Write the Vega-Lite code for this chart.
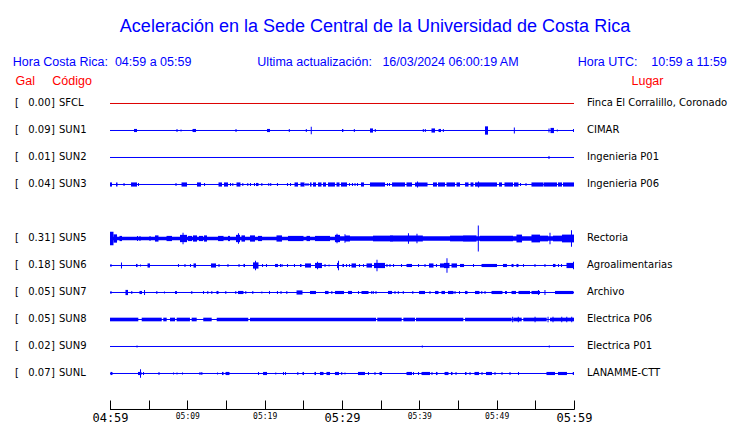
{
"$schema":"https://vega.github.io/schema/vega-lite/v6.json",
"width":464,"height":319,
"autosize":{"type":"none"},
"padding":{"left":110,"top":90,"right":166,"bottom":14},
"background":"white",
"config":{"view":{"stroke":null},"font":"DejaVu Sans",
 "axisX":{"title":null,"values":[0,5,10,15,20,25,30,35,40,45,50,55,60],"grid":false,"domain":true,"domainColor":"black","domainWidth":1,"tickColor":"black","tickWidth":1,"tickSize":-9,"labelFlush":false,"labelOverlap":false,"labelFont":"DejaVu Sans Mono","labelColor":"black","labelPadding":12,"labelBaseline":"top"}},
"title":{"text":"Aceleración en la Sede Central de la Universidad de Costa Rica",
"subtitle":"Hora Costa Rica:\u00a0\u00a004:59 a 05:59\u00a0\u00a0\u00a0\u00a0\u00a0\u00a0\u00a0\u00a0\u00a0\u00a0\u00a0\u00a0\u00a0\u00a0\u00a0\u00a0\u00a0\u00a0\u00a0Ultima actualización:\u00a0\u00a0\u00a016/03/2024 06:00:19 AM\u00a0\u00a0\u00a0\u00a0\u00a0\u00a0\u00a0\u00a0\u00a0\u00a0\u00a0\u00a0\u00a0\u00a0\u00a0\u00a0\u00a0Hora UTC:\u00a0\u00a0\u00a0\u00a010:59 a 11:59\u00a0\u00a0\u00a0\u200b",
"anchor":"middle","frame":"group","dx":33,"font":"Liberation Sans","fontSize":18,"fontWeight":"normal","color":"#0000ff",
"subtitleFont":"Liberation Sans","subtitleFontSize":12.5,"subtitleColor":"#0000ff","subtitlePadding":20,"offset":6},
"datasets":{
"stations":[
{"code":"SFCL","gal":0.00,"place":"Finca El Corralillo, Coronado"},
{"code":"SUN1","gal":0.09,"place":"CIMAR"},
{"code":"SUN2","gal":0.01,"place":"Ingenieria P01"},
{"code":"SUN3","gal":0.04,"place":"Ingenieria P06"},
{"code":"SUN5","gal":0.31,"place":"Rectoria"},
{"code":"SUN6","gal":0.18,"place":"Agroalimentarias"},
{"code":"SUN7","gal":0.05,"place":"Archivo"},
{"code":"SUN8","gal":0.05,"place":"Electrica P06"},
{"code":"SUN9","gal":0.02,"place":"Electrica P01"},
{"code":"SUNL","gal":0.07,"place":"LANAMME-CTT"}],
"bursts":[
{"code":"SUN1","a":3.1,"b":3.49,"amp":0.12},{"code":"SUN1","a":8.6,"b":8.73,"amp":0.12},{"code":"SUN1","a":9.12,"b":9.25,"amp":0.08},{"code":"SUN1","a":10.67,"b":11.12,"amp":0.12},{"code":"SUN1","a":16.23,"b":16.36,"amp":0.12},{"code":"SUN1","a":20.3,"b":20.69,"amp":0.12},{"code":"SUN1","a":23.12,"b":23.25,"amp":0.12},{"code":"SUN1","a":25.32,"b":25.45,"amp":0.12},{"code":"SUN1","a":25.96,"b":26.09,"amp":0.28},{"code":"SUN1","a":30.0,"b":30.17,"amp":0.12},{"code":"SUN1","a":31.53,"b":31.66,"amp":0.12},{"code":"SUN1","a":33.62,"b":34.01,"amp":0.16},{"code":"SUN1","a":34.24,"b":34.37,"amp":0.12},{"code":"SUN1","a":40.45,"b":40.58,"amp":0.12},{"code":"SUN1","a":40.71,"b":40.84,"amp":0.12},{"code":"SUN1","a":41.57,"b":42.03,"amp":0.16},{"code":"SUN1","a":42.48,"b":42.8,"amp":0.12},{"code":"SUN1","a":43.04,"b":43.17,"amp":0.12},{"code":"SUN1","a":48.49,"b":48.88,"amp":0.32},{"code":"SUN1","a":52.22,"b":52.35,"amp":0.24},{"code":"SUN1","a":56.7,"b":56.83,"amp":0.16},{"code":"SUN1","a":56.96,"b":57.41,"amp":0.2},{"code":"SUN1","a":57.78,"b":57.91,"amp":0.08},{"code":"SUN1","a":59.87,"b":60,"amp":0.12},
{"code":"SUN2","a":56.7,"b":56.83,"amp":0.12},
{"code":"SUN3","a":0,"b":0.26,"amp":0.16},{"code":"SUN3","a":0.78,"b":0.97,"amp":0.16},{"code":"SUN3","a":1.75,"b":1.88,"amp":0.12},{"code":"SUN3","a":2.72,"b":3.49,"amp":0.16},{"code":"SUN3","a":3.62,"b":3.75,"amp":0.12},{"code":"SUN3","a":8.47,"b":8.6,"amp":0.12},{"code":"SUN3","a":9.25,"b":9.96,"amp":0.16},{"code":"SUN3","a":11.25,"b":11.77,"amp":0.16},{"code":"SUN3","a":12.16,"b":12.29,"amp":0.12},{"code":"SUN3","a":14.03,"b":14.48,"amp":0.16},{"code":"SUN3","a":14.74,"b":15.26,"amp":0.16},{"code":"SUN3","a":15.52,"b":15.65,"amp":0.12},{"code":"SUN3","a":15.82,"b":15.94,"amp":0.12},{"code":"SUN3","a":16.36,"b":16.87,"amp":0.16},{"code":"SUN3","a":17.11,"b":17.24,"amp":0.12},{"code":"SUN3","a":17.75,"b":17.88,"amp":0.12},{"code":"SUN3","a":18.1,"b":18.23,"amp":0.12},{"code":"SUN3","a":18.62,"b":18.75,"amp":0.12},{"code":"SUN3","a":18.88,"b":19.2,"amp":0.12},{"code":"SUN3","a":19.57,"b":19.7,"amp":0.12},{"code":"SUN3","a":20.47,"b":20.59,"amp":0.12},{"code":"SUN3","a":20.72,"b":20.85,"amp":0.12},{"code":"SUN3","a":21.59,"b":21.72,"amp":0.12},{"code":"SUN3","a":22.89,"b":23.02,"amp":0.12},{"code":"SUN3","a":23.28,"b":23.41,"amp":0.12},{"code":"SUN3","a":23.86,"b":24.31,"amp":0.16},{"code":"SUN3","a":24.63,"b":25.15,"amp":0.16},{"code":"SUN3","a":25.28,"b":25.41,"amp":0.12},{"code":"SUN3","a":25.54,"b":25.67,"amp":0.12},{"code":"SUN3","a":25.86,"b":26.06,"amp":0.16},{"code":"SUN3","a":26.25,"b":26.64,"amp":0.16},{"code":"SUN3","a":26.9,"b":27.35,"amp":0.16},{"code":"SUN3","a":27.54,"b":27.93,"amp":0.16},{"code":"SUN3","a":28.19,"b":29.09,"amp":0.16},{"code":"SUN3","a":29.29,"b":29.68,"amp":0.16},{"code":"SUN3","a":29.87,"b":30.65,"amp":0.16},{"code":"SUN3","a":30.91,"b":31.03,"amp":0.12},{"code":"SUN3","a":31.29,"b":31.42,"amp":0.12},{"code":"SUN3","a":31.62,"b":31.75,"amp":0.12},{"code":"SUN3","a":31.94,"b":32.07,"amp":0.12},{"code":"SUN3","a":32.46,"b":32.84,"amp":0.16},{"code":"SUN3","a":33.62,"b":35.56,"amp":0.16},{"code":"SUN3","a":35.82,"b":35.95,"amp":0.12},{"code":"SUN3","a":36.08,"b":36.21,"amp":0.12},{"code":"SUN3","a":36.47,"b":38.15,"amp":0.16},{"code":"SUN3","a":38.34,"b":39.05,"amp":0.16},{"code":"SUN3","a":39.44,"b":41.06,"amp":0.16},{"code":"SUN3","a":39.7,"b":39.83,"amp":0.24},{"code":"SUN3","a":41.77,"b":42.28,"amp":0.16},{"code":"SUN3","a":42.41,"b":43.32,"amp":0.16},{"code":"SUN3","a":43.51,"b":44.61,"amp":0.16},{"code":"SUN3","a":44.81,"b":45.26,"amp":0.16},{"code":"SUN3","a":45.91,"b":46.36,"amp":0.16},{"code":"SUN3","a":46.62,"b":47.0,"amp":0.16},{"code":"SUN3","a":47.2,"b":50.04,"amp":0.16},{"code":"SUN3","a":47.59,"b":47.72,"amp":0.24},{"code":"SUN3","a":50.3,"b":50.69,"amp":0.16},{"code":"SUN3","a":51.01,"b":52.11,"amp":0.16},{"code":"SUN3","a":52.24,"b":52.82,"amp":0.16},{"code":"SUN3","a":53.02,"b":53.15,"amp":0.12},{"code":"SUN3","a":53.73,"b":53.86,"amp":0.12},{"code":"SUN3","a":54.5,"b":56.06,"amp":0.16},{"code":"SUN3","a":56.12,"b":57.8,"amp":0.16},{"code":"SUN3","a":57.93,"b":58.45,"amp":0.16},{"code":"SUN3","a":58.58,"b":60,"amp":0.16},
{"code":"SUN5","a":0,"b":29.74,"amp":0.14},{"code":"SUN5","a":29.74,"b":60,"amp":0.18},{"code":"SUN5","a":0,"b":0.45,"amp":0.52},{"code":"SUN5","a":0.45,"b":0.91,"amp":0.32},{"code":"SUN5","a":1.23,"b":1.55,"amp":0.2},{"code":"SUN5","a":3.49,"b":3.62,"amp":0.2},{"code":"SUN5","a":3.81,"b":3.94,"amp":0.2},{"code":"SUN5","a":5.11,"b":5.24,"amp":0.2},{"code":"SUN5","a":5.82,"b":6.27,"amp":0.24},{"code":"SUN5","a":7.31,"b":8.02,"amp":0.2},{"code":"SUN5","a":9.05,"b":9.96,"amp":0.28},{"code":"SUN5","a":9.38,"b":9.51,"amp":0.44},{"code":"SUN5","a":10.09,"b":10.6,"amp":0.2},{"code":"SUN5","a":10.73,"b":11.25,"amp":0.24},{"code":"SUN5","a":11.51,"b":12.03,"amp":0.2},{"code":"SUN5","a":12.16,"b":12.54,"amp":0.24},{"code":"SUN5","a":13.97,"b":14.68,"amp":0.2},{"code":"SUN5","a":15.26,"b":15.52,"amp":0.2},{"code":"SUN5","a":16.29,"b":16.81,"amp":0.28},{"code":"SUN5","a":16.55,"b":16.68,"amp":0.4},{"code":"SUN5","a":17.0,"b":17.46,"amp":0.24},{"code":"SUN5","a":18.1,"b":18.75,"amp":0.24},{"code":"SUN5","a":19.14,"b":19.66,"amp":0.2},{"code":"SUN5","a":21.53,"b":22.24,"amp":0.24},{"code":"SUN5","a":23.02,"b":25.02,"amp":0.2},{"code":"SUN5","a":25.41,"b":25.86,"amp":0.2},{"code":"SUN5","a":26.51,"b":28.45,"amp":0.2},{"code":"SUN5","a":29.09,"b":29.74,"amp":0.28},{"code":"SUN5","a":29.29,"b":29.42,"amp":0.36},{"code":"SUN5","a":30.32,"b":30.45,"amp":0.32},{"code":"SUN5","a":30.39,"b":31.03,"amp":0.24},{"code":"SUN5","a":34.01,"b":36.59,"amp":0.22},{"code":"SUN5","a":36.21,"b":40.45,"amp":0.24},{"code":"SUN5","a":38.53,"b":38.66,"amp":0.4},{"code":"SUN5","a":39.63,"b":39.76,"amp":0.36},{"code":"SUN5","a":43.97,"b":45.65,"amp":0.22},{"code":"SUN5","a":45.65,"b":47.39,"amp":0.24},{"code":"SUN5","a":47.56,"b":47.69,"amp":1},{"code":"SUN5","a":47.84,"b":52.11,"amp":0.22},{"code":"SUN5","a":52.56,"b":53.28,"amp":0.3},{"code":"SUN5","a":54.5,"b":55.6,"amp":0.3},{"code":"SUN5","a":55.6,"b":56.64,"amp":0.22},{"code":"SUN5","a":56.83,"b":56.96,"amp":0.44},{"code":"SUN5","a":57.28,"b":58.45,"amp":0.22},{"code":"SUN5","a":58.45,"b":60,"amp":0.3},{"code":"SUN5","a":59.61,"b":59.74,"amp":0.64},
{"code":"SUN6","a":0.06,"b":0.19,"amp":0.12},{"code":"SUN6","a":1.42,"b":1.55,"amp":0.24},{"code":"SUN6","a":3.36,"b":3.56,"amp":0.12},{"code":"SUN6","a":3.88,"b":4.01,"amp":0.08},{"code":"SUN6","a":4.85,"b":5.17,"amp":0.16},{"code":"SUN6","a":8.79,"b":8.92,"amp":0.12},{"code":"SUN6","a":9.63,"b":9.76,"amp":0.12},{"code":"SUN6","a":10.34,"b":10.47,"amp":0.12},{"code":"SUN6","a":10.8,"b":11.12,"amp":0.16},{"code":"SUN6","a":13.06,"b":13.71,"amp":0.16},{"code":"SUN6","a":14.03,"b":14.16,"amp":0.12},{"code":"SUN6","a":15.19,"b":15.32,"amp":0.12},{"code":"SUN6","a":16.62,"b":16.75,"amp":0.12},{"code":"SUN6","a":17.26,"b":17.46,"amp":0.12},{"code":"SUN6","a":18.49,"b":19.2,"amp":0.24},{"code":"SUN6","a":18.75,"b":18.88,"amp":0.36},{"code":"SUN6","a":19.66,"b":19.79,"amp":0.12},{"code":"SUN6","a":20.17,"b":20.3,"amp":0.12},{"code":"SUN6","a":21.34,"b":21.72,"amp":0.12},{"code":"SUN6","a":21.98,"b":22.11,"amp":0.12},{"code":"SUN6","a":22.18,"b":22.31,"amp":0.12},{"code":"SUN6","a":22.89,"b":23.02,"amp":0.12},{"code":"SUN6","a":23.79,"b":23.92,"amp":0.12},{"code":"SUN6","a":24.57,"b":24.76,"amp":0.12},{"code":"SUN6","a":25.22,"b":25.99,"amp":0.16},{"code":"SUN6","a":26.51,"b":27.41,"amp":0.2},{"code":"SUN6","a":26.77,"b":26.9,"amp":0.28},{"code":"SUN6","a":27.74,"b":27.87,"amp":0.12},{"code":"SUN6","a":28.26,"b":28.39,"amp":0.08},{"code":"SUN6","a":29.35,"b":29.61,"amp":0.2},{"code":"SUN6","a":29.48,"b":29.61,"amp":0.36},{"code":"SUN6","a":30.06,"b":30.26,"amp":0.12},{"code":"SUN6","a":30.52,"b":30.65,"amp":0.12},{"code":"SUN6","a":30.91,"b":31.03,"amp":0.12},{"code":"SUN6","a":31.23,"b":31.81,"amp":0.16},{"code":"SUN6","a":32.2,"b":32.33,"amp":0.12},{"code":"SUN6","a":32.72,"b":32.84,"amp":0.12},{"code":"SUN6","a":33.17,"b":33.88,"amp":0.16},{"code":"SUN6","a":34.14,"b":35.56,"amp":0.2},{"code":"SUN6","a":34.46,"b":34.59,"amp":0.44},{"code":"SUN6","a":35.75,"b":35.88,"amp":0.12},{"code":"SUN6","a":36.14,"b":36.27,"amp":0.12},{"code":"SUN6","a":36.6,"b":36.73,"amp":0.12},{"code":"SUN6","a":37.63,"b":37.76,"amp":0.12},{"code":"SUN6","a":38.34,"b":39.05,"amp":0.12},{"code":"SUN6","a":39.83,"b":39.96,"amp":0.12},{"code":"SUN6","a":40.67,"b":40.8,"amp":0.12},{"code":"SUN6","a":41.25,"b":41.83,"amp":0.16},{"code":"SUN6","a":42.15,"b":42.28,"amp":0.12},{"code":"SUN6","a":42.67,"b":43.19,"amp":0.16},{"code":"SUN6","a":43.19,"b":43.9,"amp":0.2},{"code":"SUN6","a":43.51,"b":43.64,"amp":0.56},{"code":"SUN6","a":44.16,"b":44.87,"amp":0.16},{"code":"SUN6","a":45.26,"b":45.78,"amp":0.12},{"code":"SUN6","a":46.94,"b":47.07,"amp":0.12},{"code":"SUN6","a":48.04,"b":50.04,"amp":0.12},{"code":"SUN6","a":50.82,"b":51.33,"amp":0.12},{"code":"SUN6","a":51.92,"b":52.18,"amp":0.12},{"code":"SUN6","a":52.56,"b":52.82,"amp":0.12},{"code":"SUN6","a":53.41,"b":53.53,"amp":0.12},{"code":"SUN6","a":54.89,"b":55.02,"amp":0.12},{"code":"SUN6","a":56.18,"b":56.31,"amp":0.12},{"code":"SUN6","a":57.28,"b":57.61,"amp":0.12},{"code":"SUN6","a":57.93,"b":58.06,"amp":0.12},{"code":"SUN6","a":58.32,"b":58.45,"amp":0.12},{"code":"SUN6","a":59.03,"b":60,"amp":0.2},{"code":"SUN6","a":59.87,"b":60,"amp":0.28},
{"code":"SUN7","a":0.06,"b":0.19,"amp":0.12},{"code":"SUN7","a":2.0,"b":2.33,"amp":0.2},{"code":"SUN7","a":2.75,"b":2.88,"amp":0.12},{"code":"SUN7","a":3.81,"b":4.14,"amp":0.12},{"code":"SUN7","a":4.4,"b":4.53,"amp":0.2},{"code":"SUN7","a":5.99,"b":6.12,"amp":0.12},{"code":"SUN7","a":6.98,"b":7.11,"amp":0.08},{"code":"SUN7","a":8.41,"b":8.66,"amp":0.12},{"code":"SUN7","a":10.51,"b":10.64,"amp":0.12},{"code":"SUN7","a":12.03,"b":12.16,"amp":0.12},{"code":"SUN7","a":12.58,"b":12.71,"amp":0.12},{"code":"SUN7","a":13.1,"b":13.23,"amp":0.12},{"code":"SUN7","a":13.77,"b":14.03,"amp":0.12},{"code":"SUN7","a":14.91,"b":15.04,"amp":0.12},{"code":"SUN7","a":16.2,"b":16.33,"amp":0.12},{"code":"SUN7","a":16.55,"b":17.26,"amp":0.12},{"code":"SUN7","a":17.5,"b":17.62,"amp":0.12},{"code":"SUN7","a":18.4,"b":18.53,"amp":0.12},{"code":"SUN7","a":19.57,"b":19.7,"amp":0.08},{"code":"SUN7","a":20.56,"b":20.69,"amp":0.12},{"code":"SUN7","a":21.59,"b":21.72,"amp":0.12},{"code":"SUN7","a":22.05,"b":22.18,"amp":0.12},{"code":"SUN7","a":22.8,"b":22.93,"amp":0.12},{"code":"SUN7","a":24.12,"b":24.89,"amp":0.16},{"code":"SUN7","a":25.86,"b":26.64,"amp":0.12},{"code":"SUN7","a":27.8,"b":28.26,"amp":0.12},{"code":"SUN7","a":28.62,"b":28.75,"amp":0.12},{"code":"SUN7","a":29.09,"b":30.26,"amp":0.12},{"code":"SUN7","a":30.78,"b":31.29,"amp":0.12},{"code":"SUN7","a":32.07,"b":32.2,"amp":0.12},{"code":"SUN7","a":32.52,"b":33.43,"amp":0.12},{"code":"SUN7","a":33.78,"b":33.91,"amp":0.12},{"code":"SUN7","a":33.98,"b":34.11,"amp":0.12},{"code":"SUN7","a":34.33,"b":34.46,"amp":0.12},{"code":"SUN7","a":35.95,"b":36.47,"amp":0.12},{"code":"SUN7","a":36.79,"b":36.92,"amp":0.12},{"code":"SUN7","a":37.22,"b":37.34,"amp":0.12},{"code":"SUN7","a":37.86,"b":37.99,"amp":0.12},{"code":"SUN7","a":39.09,"b":39.22,"amp":0.12},{"code":"SUN7","a":39.96,"b":40.73,"amp":0.12},{"code":"SUN7","a":41.31,"b":41.44,"amp":0.12},{"code":"SUN7","a":42.03,"b":42.48,"amp":0.12},{"code":"SUN7","a":42.86,"b":43.32,"amp":0.12},{"code":"SUN7","a":43.71,"b":44.42,"amp":0.12},{"code":"SUN7","a":44.55,"b":44.68,"amp":0.12},{"code":"SUN7","a":45.13,"b":45.26,"amp":0.12},{"code":"SUN7","a":45.91,"b":46.23,"amp":0.12},{"code":"SUN7","a":47.2,"b":47.78,"amp":0.12},{"code":"SUN7","a":48.01,"b":48.14,"amp":0.12},{"code":"SUN7","a":48.43,"b":48.56,"amp":0.12},{"code":"SUN7","a":49.33,"b":50.75,"amp":0.12},{"code":"SUN7","a":51.08,"b":51.33,"amp":0.12},{"code":"SUN7","a":51.92,"b":52.5,"amp":0.12},{"code":"SUN7","a":52.82,"b":54.31,"amp":0.12},{"code":"SUN7","a":54.5,"b":55.6,"amp":0.12},{"code":"SUN7","a":55.34,"b":55.47,"amp":0.2},{"code":"SUN7","a":56.18,"b":56.31,"amp":0.2},{"code":"SUN7","a":57.54,"b":59.93,"amp":0.12},
{"code":"SUN8","a":0,"b":3.66,"amp":0.14},{"code":"SUN8","a":4.1,"b":6.69,"amp":0.14},{"code":"SUN8","a":6.89,"b":7.33,"amp":0.14},{"code":"SUN8","a":7.76,"b":8.41,"amp":0.14},{"code":"SUN8","a":8.62,"b":10.34,"amp":0.14},{"code":"SUN8","a":10.56,"b":11.21,"amp":0.14},{"code":"SUN8","a":12.06,"b":13.15,"amp":0.14},{"code":"SUN8","a":13.8,"b":17.88,"amp":0.14},{"code":"SUN8","a":18.1,"b":34.4,"amp":0.14},{"code":"SUN8","a":34.56,"b":37.72,"amp":0.14},{"code":"SUN8","a":37.93,"b":39.44,"amp":0.14},{"code":"SUN8","a":39.57,"b":45.69,"amp":0.14},{"code":"SUN8","a":45.91,"b":51.94,"amp":0.14},{"code":"SUN8","a":52.15,"b":53.24,"amp":0.14},{"code":"SUN8","a":53.44,"b":56.47,"amp":0.14},{"code":"SUN8","a":56.9,"b":60,"amp":0.14},{"code":"SUN8","a":52.0,"b":52.13,"amp":0.22},{"code":"SUN8","a":52.73,"b":52.86,"amp":0.22},{"code":"SUN8","a":54.9,"b":55.03,"amp":0.22},{"code":"SUN8","a":56.58,"b":56.71,"amp":0.22},{"code":"SUN8","a":57.22,"b":57.35,"amp":0.22},{"code":"SUN8","a":58.35,"b":58.48,"amp":0.22},{"code":"SUN8","a":59.0,"b":59.13,"amp":0.22},{"code":"SUN8","a":59.64,"b":59.77,"amp":0.22},
{"code":"SUN9","a":3.43,"b":3.56,"amp":0.08},{"code":"SUN9","a":40.32,"b":40.45,"amp":0.08},{"code":"SUN9","a":56.74,"b":56.87,"amp":0.08},
{"code":"SUNL","a":0.06,"b":0.32,"amp":0.12},{"code":"SUNL","a":3.62,"b":4.07,"amp":0.12},{"code":"SUNL","a":3.88,"b":4.01,"amp":0.32},{"code":"SUNL","a":4.27,"b":4.4,"amp":0.12},{"code":"SUNL","a":6.27,"b":6.4,"amp":0.12},{"code":"SUNL","a":8.15,"b":8.28,"amp":0.08},{"code":"SUNL","a":8.6,"b":8.73,"amp":0.08},{"code":"SUNL","a":9.31,"b":9.44,"amp":0.08},{"code":"SUNL","a":11.57,"b":11.7,"amp":0.12},{"code":"SUNL","a":11.81,"b":11.94,"amp":0.12},{"code":"SUNL","a":13.84,"b":13.97,"amp":0.08},{"code":"SUNL","a":14.48,"b":14.68,"amp":0.12},{"code":"SUNL","a":14.94,"b":15.45,"amp":0.12},{"code":"SUNL","a":19.14,"b":19.27,"amp":0.12},{"code":"SUNL","a":19.79,"b":20.3,"amp":0.12},{"code":"SUNL","a":21.37,"b":21.5,"amp":0.08},{"code":"SUNL","a":22.37,"b":22.5,"amp":0.12},{"code":"SUNL","a":22.63,"b":22.76,"amp":0.12},{"code":"SUNL","a":24.22,"b":24.35,"amp":0.12},{"code":"SUNL","a":24.89,"b":25.09,"amp":0.12},{"code":"SUNL","a":26.44,"b":26.64,"amp":0.12},{"code":"SUNL","a":27.15,"b":27.61,"amp":0.12},{"code":"SUNL","a":27.99,"b":28.45,"amp":0.12},{"code":"SUNL","a":29.09,"b":29.61,"amp":0.12},{"code":"SUNL","a":29.9,"b":30.03,"amp":0.12},{"code":"SUNL","a":30.32,"b":30.45,"amp":0.08},{"code":"SUNL","a":32.07,"b":32.97,"amp":0.12},{"code":"SUNL","a":33.36,"b":33.49,"amp":0.12},{"code":"SUNL","a":34.2,"b":34.33,"amp":0.12},{"code":"SUNL","a":34.85,"b":35.17,"amp":0.12},{"code":"SUNL","a":38.34,"b":39.05,"amp":0.12},{"code":"SUNL","a":39.18,"b":39.31,"amp":0.12},{"code":"SUNL","a":39.83,"b":39.96,"amp":0.12},{"code":"SUNL","a":40.28,"b":41.38,"amp":0.12},{"code":"SUNL","a":41.57,"b":41.7,"amp":0.12},{"code":"SUNL","a":42.15,"b":42.35,"amp":0.12},{"code":"SUNL","a":43.26,"b":43.77,"amp":0.12},{"code":"SUNL","a":44.09,"b":44.29,"amp":0.12},{"code":"SUNL","a":44.68,"b":44.81,"amp":0.12},{"code":"SUNL","a":45.91,"b":46.1,"amp":0.12},{"code":"SUNL","a":46.49,"b":46.62,"amp":0.12},{"code":"SUNL","a":47.13,"b":47.72,"amp":0.12},{"code":"SUNL","a":48.04,"b":48.17,"amp":0.12},{"code":"SUNL","a":48.62,"b":49.4,"amp":0.12},{"code":"SUNL","a":49.72,"b":49.85,"amp":0.12},{"code":"SUNL","a":50.63,"b":50.75,"amp":0.12},{"code":"SUNL","a":51.66,"b":51.79,"amp":0.12},{"code":"SUNL","a":52.76,"b":52.89,"amp":0.12},{"code":"SUNL","a":56.44,"b":57.54,"amp":0.12},{"code":"SUNL","a":57.93,"b":59.09,"amp":0.12},{"code":"SUNL","a":59.84,"b":60,"amp":0.12}
]},
"layer":[
{"data":{"name":"stations"},"mark":{"type":"rule","strokeWidth":1},
 "encoding":{
  "y":{"field":"code","type":"nominal","scale":{"type":"band","domain":["SFCL","SUN1","SUN2","SUN3","SUN4","SUN5","SUN6","SUN7","SUN8","SUN9","SUNL"],"paddingInner":0,"paddingOuter":0.40741,"align":0,"round":false},
   "axis":{"title":"Gal\u00a0\u00a0\u00a0\u00a0\u00a0Código","titleAngle":0,"titleX":-95,"titleY":-10,"titleAlign":"left","titleBaseline":"middle","titleColor":"#ff0000","titleFont":"Liberation Sans","titleFontSize":12.5,"titleFontWeight":"normal","labels":false,"ticks":false,"domain":false,"grid":false}},
  "color":{"condition":{"test":"datum.code === 'SFCL'","value":"#dd0000"},"value":"#0000ff"}}},
{"data":{"values":[{"edge":"SUNL"}]},"mark":{"type":"rule","color":"black","strokeWidth":1,"yOffset":36},
 "encoding":{"x":{"datum":0,"type":"quantitative"},"x2":{"datum":60},"y":{"field":"edge","type":"nominal","axis":null}}},
{"data":{"name":"bursts"},"mark":{"type":"bar","color":"#0000ff"},
 "encoding":{
  "x":{"field":"a","type":"quantitative","scale":{"domain":[0,60],"nice":false,"zero":false},
   "axis":{"labelFontSize":{"condition":{"test":"datum.value % 30 === 0","value":12},"value":8},"labelExpr":"datum.value % 10 === 0 ? timeFormat(datetime(2024,2,16,4,59+datum.value),'%H:%M') : ''"}},
  "x2":{"field":"b"},
  "y":{"field":"code","type":"nominal","scale":{"type":"band","domain":["SFCL","SUN1","SUN2","SUN3","SUN4","SUN5","SUN6","SUN7","SUN8","SUN9","SUNL"],"paddingInner":0,"paddingOuter":0.40741,"align":0,"round":false},"axis":null},
  "size":{"field":"amp","type":"quantitative","scale":{"domain":[0,1],"range":[0,26]},"legend":null}}},
{"data":{"name":"stations"},"mark":{"type":"text","text":"[","align":"left","baseline":"middle","dx":-95,"fontSize":10,"color":"black"},
 "encoding":{"x":{"datum":0,"type":"quantitative"},"y":{"field":"code","type":"nominal","axis":null}}},
{"data":{"name":"stations"},"mark":{"type":"text","align":"right","baseline":"middle","dx":-59.5,"fontSize":10,"color":"black"},
 "encoding":{"x":{"datum":0,"type":"quantitative"},"y":{"field":"code","type":"nominal","axis":null},"text":{"field":"gal","type":"quantitative","format":".2f"}}},
{"data":{"name":"stations"},"mark":{"type":"text","text":"]","align":"left","baseline":"middle","dx":-59,"fontSize":10,"color":"black"},
 "encoding":{"x":{"datum":0,"type":"quantitative"},"y":{"field":"code","type":"nominal","axis":null}}},
{"data":{"name":"stations"},"mark":{"type":"text","align":"left","baseline":"middle","dx":-51,"fontSize":10,"color":"black"},
 "encoding":{"x":{"datum":0,"type":"quantitative"},"y":{"field":"code","type":"nominal","axis":null},"text":{"field":"code","type":"nominal"}}},
{"data":{"name":"stations"},"mark":{"type":"text","align":"left","baseline":"middle","dx":13,"fontSize":10,"color":"black"},
 "encoding":{"x":{"datum":60,"type":"quantitative"},
  "y":{"field":"code","type":"nominal","axis":{"orient":"right","title":"Lugar","titleAngle":0,"titleX":57,"titleY":-10,"titleAlign":"left","titleBaseline":"middle","titleColor":"#ff0000","titleFont":"Liberation Sans","titleFontSize":12.5,"titleFontWeight":"normal","labels":false,"ticks":false,"domain":false,"grid":false}},
  "text":{"field":"place","type":"nominal"}}}
],
"resolve":{"axis":{"y":"independent"}}
}
